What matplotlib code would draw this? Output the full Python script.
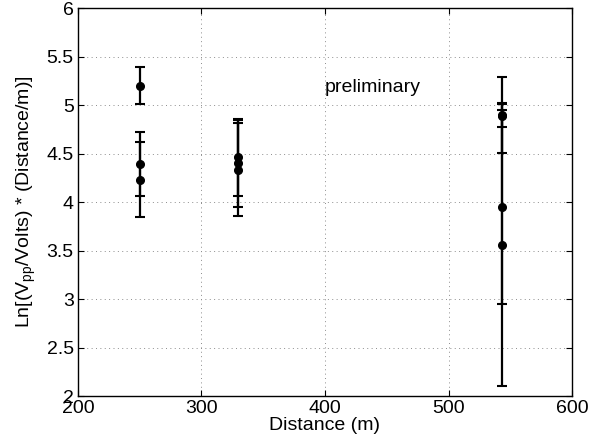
import matplotlib
matplotlib.use("Agg")
import matplotlib.pyplot as plt

plt.rcParams['font.family'] = ['Liberation Sans', 'DejaVu Sans']
plt.rcParams['mathtext.fontset'] = 'custom'
plt.rcParams['mathtext.rm'] = 'Liberation Sans'
plt.rcParams['mathtext.it'] = 'Liberation Sans'

distance = [250, 250, 250, 330, 330, 330, 543, 543, 543, 543]
ln_value = [5.20, 4.39, 4.23, 4.46, 4.40, 4.335, 4.90, 4.89, 3.95, 3.56]
err = [0.19, 0.33, 0.385, 0.40, 0.45, 0.48, 0.39, 0.12, 1.00, 1.46]

xticks = [200, 300, 400, 500, 600]
yticks = [2, 2.5, 3, 3.5, 4, 4.5, 5, 5.5, 6]
ytick_labels = ['2', '2.5', '3', '3.5', '4', '4.5', '5', '5.5', '6']

fig = plt.figure(figsize=(5.99, 4.47), dpi=100)
ax = fig.add_axes([0.130, 0.114, 0.825, 0.868])

ax.errorbar(distance, ln_value, yerr=err, fmt='o', color='black',
            ecolor='black', elinewidth=1.6, capsize=3.5, capthick=1.5,
            markersize=5.5, zorder=3)

ax.set_xlim(200, 600)
ax.set_ylim(2, 6)
ax.set_xticks(xticks)
ax.set_yticks(yticks)
ax.set_yticklabels(ytick_labels)
ax.grid(True, linestyle=(0, (1, 3.5)), color='0.55', linewidth=0.7)
ax.tick_params(direction='in', length=4, width=0.8, top=True, right=True,
               labelsize=14, pad=3)
for s in ax.spines.values():
    s.set_linewidth(1.0)

ax.set_xlabel('Distance (m)', fontsize=14, labelpad=0)
ax.set_ylabel(r'Ln[(V$_{\mathrm{pp}}$/Volts) * (Distance/m)]', fontsize=14, labelpad=6)
ax.text(400, 5.18, 'preliminary', fontsize=14, ha='left', va='center')

fig.savefig('out.png', dpi=100)
